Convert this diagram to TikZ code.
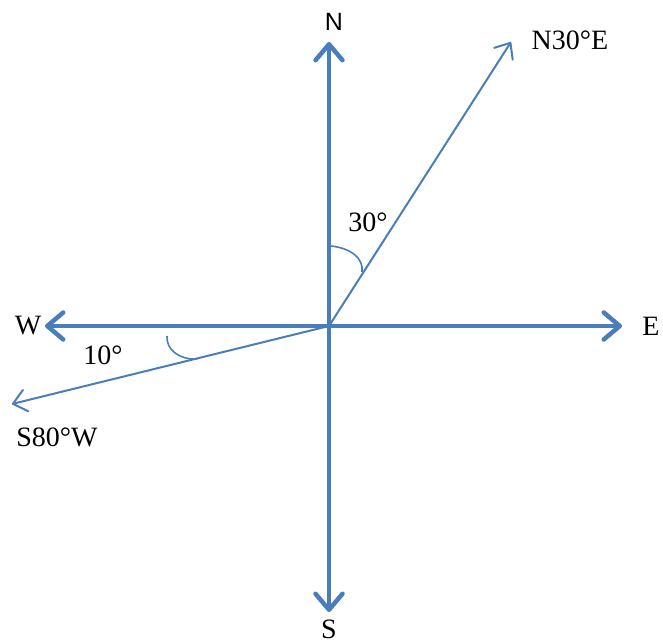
\documentclass[tikz,border=0pt]{standalone}
\usepackage{fontspec}
\setmainfont{Liberation Serif}
\newfontfamily\arialfont{Liberation Sans}
\usetikzlibrary{arrows.meta}
\definecolor{axisblue}{RGB}{74,126,187}

\begin{document}
\begin{tikzpicture}[x=1pt, y=1pt,
		axis/.style={line width=4.5pt, axisblue, line cap=round,
			-{Straight Barb[length=16pt, width=27pt, line width=4.5pt, round]}},
		bearing/.style={line width=2pt, axisblue,
			-{Straight Barb[length=13pt, width=22pt, line width=2pt, round]}},
		anglearc/.style={line width=1.6pt, axisblue},
		lbl/.style={font=\fontsize{28}{30}\selectfont, inner sep=0pt}]
		\useasboundingbox (0,0) rectangle (663,643);
		
		% centre and the four tips of the axes
		\coordinate (o) at (329,317);
		\coordinate (n) at (329,601);
		\coordinate (s) at (329,31);
		\coordinate (w) at (45,317);
		\coordinate (e) at (622,317);
		
		% tips of the two bearings
		\coordinate (ne) at (511,601);
		\coordinate (sw) at (12,239);
		
		% compass axes
		\draw[axis] (o) -- (n);
		\draw[axis] (o) -- (s);
		\draw[axis] (o) -- (w);
		\draw[axis] (o) -- (e);
		
		% bearing lines
		\draw[bearing] (o) -- (ne);
		\draw[bearing] (o) -- (sw);
		
		% angle arcs
		\coordinate (a1) at (331,397);
		\coordinate (a2) at (362,371);
		\draw[anglearc] (a1) .. controls (350,395) and (364,385) .. (a2);
		\coordinate (b1) at (167,307);
		\coordinate (b2) at (197,284);
		\draw[anglearc] (b1) .. controls (166,293) and (180,283) .. (b2);
		
		% labels
		\node (nlabel) [lbl, font=\arialfont\fontsize{25}{27}\selectfont] at (334,621) {N};
		\node (slabel) [lbl] at (329,14) {S};
		\node (wlabel) [lbl] at (28,317) {W};
		\node (elabel) [lbl] at (651,317) {E};
		\node (nelabel) [lbl] at (570,603) {N30°E};
		\node (swlabel) [lbl] at (57,206) {S80°W};
		\node (thirty) [lbl] at (368,421) {30°};
		\node (ten) [lbl] at (103,288) {10°};
	\end{tikzpicture}
\end{document}
